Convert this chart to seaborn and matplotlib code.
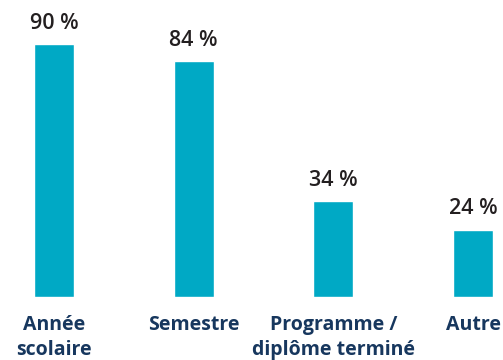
import matplotlib
matplotlib.use("Agg")
import matplotlib.pyplot as plt
import seaborn as sns
import pandas as pd

categories = ["Année\nscolaire", "Semestre", "Programme /\ndiplôme terminé", "Autre"]
values = [90, 84, 34, 24]
value_labels = ["90 %", "84 %", "34 %", "24 %"]

bar_color = "#00A9C5"
label_color = "#17375E"
value_color = "#231F20"

sns.set_theme(style="white")
plt.rcParams["font.family"] = ["Open Sans", "DejaVu Sans"]

df = pd.DataFrame({"cat": categories, "val": values})

W, H = 503, 360
fig = plt.figure(figsize=(W / 100, H / 100), dpi=100)
# axes placed in pixel terms: x unit = 139.67 px, y unit = 2.81 px
unit_x = 139.67
left_px = 54 - 0.2 * unit_x
ax = fig.add_axes([left_px / W, 63 / H, 3.4 * unit_x / W, 281 / H])

sns.barplot(data=df, x="cat", y="val", color=bar_color, width=40 / unit_x,
            saturation=1, ax=ax)

ax.set_xlim(-0.2, 3.2)
ax.set_ylim(0, 100)
ax.set_xlabel("")
ax.set_ylabel("")
ax.set_yticks([])
for s in ax.spines.values():
    s.set_visible(False)

ax.tick_params(axis="x", length=0, pad=13)
for t in ax.get_xticklabels():
    t.set_fontsize(14)
    t.set_fontweight("bold")
    t.set_color(label_color)
    t.set_linespacing(1.3)

for i, (v, lab) in enumerate(zip(values, value_labels)):
    ax.annotate(lab, xy=(i, v), xytext=(0, 11), textcoords="offset points",
                ha="center", va="baseline", fontsize=15.5, fontweight="semibold",
                color=value_color, annotation_clip=False)

fig.savefig("out.png", dpi=100)
